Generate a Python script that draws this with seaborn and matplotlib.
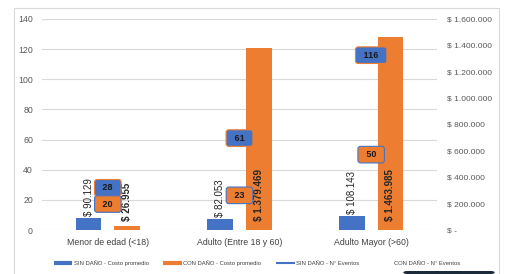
import numpy as np
import pandas as pd
import matplotlib
matplotlib.use("Agg")
import matplotlib.pyplot as plt
import seaborn as sns
from matplotlib.lines import Line2D
from matplotlib.patches import Rectangle, FancyBboxPatch

# ---------------- data ----------------
categorias = ["Menor de edad (<18)", "Adulto (Entre 18 y 60)", "Adulto Mayor (>60)"]
costo_sin = [90129, 82053, 108143]
costo_con = [26955, 1379469, 1463985]
eventos_sin = [28, 61, 116]
eventos_con = [20, 23, 50]
serie_costo = ["SIN DAÑO - Costo promedio", "CON DAÑO - Costo promedio"]
serie_eventos = ["SIN DAÑO - N° Eventos", "CON DAÑO - N° Eventos"]
ticks_eventos = [0, 20, 40, 60, 80, 100, 120, 140]
ticks_costo = [0, 200000, 400000, 600000, 800000, 1000000, 1200000, 1400000, 1600000]

AZUL = "#4472C4"
NARANJA = "#ED7D31"
GRIS_TXT = "#595959"

sns.set_theme(style="white")
plt.rcParams["font.family"] = ["Liberation Sans", "DejaVu Sans"]

df_costo = pd.DataFrame({
    "Grupo": categorias * 2,
    "Serie": [serie_costo[0]] * 3 + [serie_costo[1]] * 3,
    "Costo": costo_sin + costo_con,
})
pos = np.arange(len(categorias))

fig = plt.figure(figsize=(5.08, 2.74), dpi=100)
ax = fig.add_axes([42 / 508, 1 - 230 / 274, (437 - 42) / 508, (230 - 19) / 274])
ax2 = ax.twinx()

# events (primary, left axis) - markers/lines not shown, only labels
sns.lineplot(x=pos, y=eventos_sin, ax=ax, color=AZUL, linewidth=0, legend=False)
sns.lineplot(x=pos, y=eventos_con, ax=ax, color=NARANJA, linewidth=0, legend=False)

# cost bars (secondary, right axis)
sns.barplot(data=df_costo, x="Grupo", y="Costo", hue="Serie", order=categorias,
            hue_order=serie_costo, palette=[AZUL, NARANJA], width=0.584, gap=0.33,
            ax=ax2, legend=False, linewidth=0, saturation=1)

ax.set_ylim(0, 140)
ax.set_yticks(ticks_eventos)
ax2.set_ylim(0, 1600000)
ax2.set_yticks(ticks_costo)
ax2.set_yticklabels(["$ -" if t == 0 else "$ " + f"{t:,}".replace(",", ".") for t in ticks_costo])
ax.set_xlim(-0.5, 2.5)
ax.set_xticks(pos)
ax.set_xticklabels(categorias)
for a in (ax, ax2):
    a.set_xlabel("")
    a.set_ylabel("")
    for s in a.spines.values():
        s.set_visible(False)
ax.grid(axis="y", color="#d9d9d9", linewidth=0.8)
ax.grid(axis="x", visible=False)
ax2.grid(False)
ax.tick_params(axis="y", length=0, pad=6.5, labelsize=6.3, labelcolor=GRIS_TXT)
ax.tick_params(axis="x", length=0, pad=6, labelsize=6.3, labelcolor="#404040")
ax2.tick_params(axis="y", length=0, pad=7, labelsize=6, labelcolor=GRIS_TXT)

# bar labels
for k, cont in enumerate(ax2.containers):
    for bar in cont:
        h = bar.get_height()
        xc = bar.get_x() + bar.get_width() / 2
        txt = "$ " + f"{int(round(h)):,}".replace(",", ".")
        if k == 0:
            ax2.annotate(txt, (xc, h), xytext=(0, 1.5), textcoords="offset points",
                         rotation=90, ha="center", va="bottom", fontsize=7,
                         color="#262626")
        else:
            ax2.annotate(txt, (xc, 0), xytext=(0, 6.5), textcoords="offset points",
                         rotation=90, ha="center", va="bottom", fontsize=7,
                         fontweight="bold", color="#262626")

# event labels (boxes) drawn above bars
offs_sin = [0, 0, 0]
offs_con = [-3, 0, 0]
for i, v in enumerate(eventos_sin):
    ax2.annotate("\u2002" + str(v) + "\u2002", (pos[i], v), xycoords=ax.transData,
                 xytext=(0, offs_sin[i]), textcoords="offset points",
                 ha="center", va="center", fontsize=6.5, fontweight="bold", color="#1a1a1a",
                 bbox=dict(boxstyle="round,pad=0.42,rounding_size=0.3", fc=AZUL, ec=NARANJA, lw=0.8),
                 zorder=10)
for i, v in enumerate(eventos_con):
    ax2.annotate("\u2002" + str(v) + "\u2002", (pos[i], v), xycoords=ax.transData,
                 xytext=(0, offs_con[i]), textcoords="offset points",
                 ha="center", va="center", fontsize=6.5, fontweight="bold", color="#1a1a1a",
                 bbox=dict(boxstyle="round,pad=0.42,rounding_size=0.3", fc=NARANJA, ec=AZUL, lw=0.8),
                 zorder=10)

# legend
handles = [
    Line2D([], [], color=AZUL, lw=3, solid_capstyle="butt"),
    Line2D([], [], color=NARANJA, lw=3, solid_capstyle="butt"),
    Line2D([], [], color=AZUL, lw=1.5, solid_capstyle="butt"),
    Line2D([], [], color="none", lw=1.5),
]
fig.legend(handles, serie_costo + serie_eventos, loc="center", ncol=4,
           bbox_to_anchor=(257 / 508, 1 - 263 / 274), frameon=False, fontsize=4.2,
           handlelength=3.2, handletextpad=0.25, columnspacing=2.5, labelcolor="#404040")

# chart border and bottom artifact
fig.add_artist(Rectangle((14 / 508, -0.1), (499 - 14) / 508, 1.1 - 8 / 274,
                         transform=fig.transFigure, fill=False, ec="#d9d9d9", lw=0.8))
fig.add_artist(FancyBboxPatch((403 / 508, 0), (495 - 403) / 508, 3 / 274,
                              boxstyle="round,pad=0,rounding_size=0.008",
                              transform=fig.transFigure, fc="#1c2b3a", ec="none"))

fig.savefig("out.png", dpi=100)
